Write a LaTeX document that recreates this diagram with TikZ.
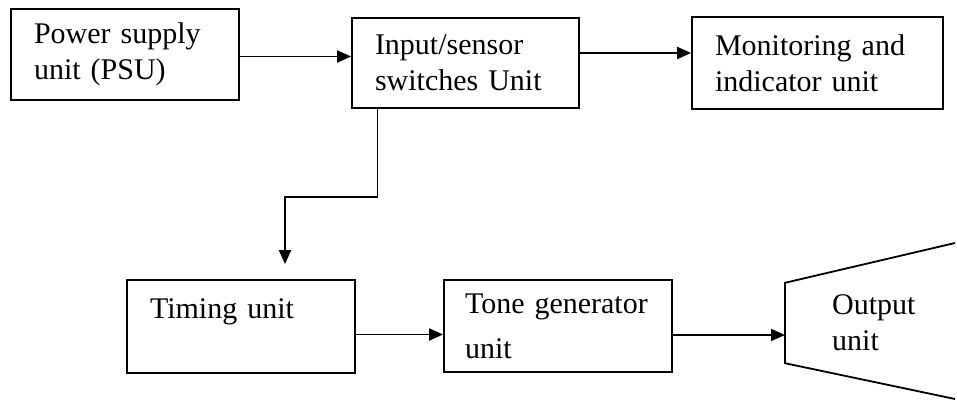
\documentclass[tikz,border=0pt]{standalone}
\usepackage{fontspec}
\setmainfont{Liberation Serif}
\usetikzlibrary{arrows.meta}
\tikzset{
  unittext/.style={align=left, font=\fontsize{30}{36}\selectfont},
  unitbox/.style={unittext, draw, line width=1.8pt, inner xsep=23pt, inner ysep=0pt},
  flow/.style={line width=1.9pt, -{Triangle[length=14pt,width=12pt]}}
}
\begin{document}
\begin{tikzpicture}[x=1pt,y=-1pt]
\useasboundingbox (0,0) rectangle (957,401);

\node[unitbox, text width=182pt, minimum height=91pt] (psu) at (125,54.5) {Power supply\\unit (PSU)};
\node[unitbox, text width=181pt, minimum height=90pt] (input) at (465.5,63) {Input/sensor\\switches Unit};
\node[unitbox, text width=205pt, minimum height=92pt] (monitor) at (817.5,63) {Monitoring and\\indicator unit};

\node[unitbox, text width=182pt, minimum height=93pt] (timing) at (241,326.5) {Timing unit\\\mbox{}};
\node[unitbox, text width=186pt, inner xsep=21pt, minimum height=92pt] (tone) at (558,326) {Tone generator\\[9pt]unit};

\node[unittext, text width=80pt, inner xsep=47pt, inner ysep=0pt, minimum height=80pt, anchor=west] (output) at (785,323) {Output\\unit};
\draw[line width=1.8pt] (955,243) -- (output.north west) -- (output.south west) -- (955,399);

\draw[flow] ([yshift=-2pt]psu.east) -- ([yshift=-2pt]psu.east -| input.west);
\draw[flow] ([yshift=10pt]input.east) -- ([yshift=10pt]input.east -| monitor.west);
\draw[flow] ([xshift=-88pt]input.south) |- ([xshift=44pt,yshift=82pt]timing.north) -- ([xshift=44pt,yshift=15pt]timing.north);
\draw[flow] ([yshift=-8pt]timing.east) -- ([yshift=-8pt]timing.east -| tone.west);
\draw[flow] ([yshift=-9pt]tone.east) -- ([yshift=-9pt]tone.east -| output.west);
\end{tikzpicture}
\end{document}
